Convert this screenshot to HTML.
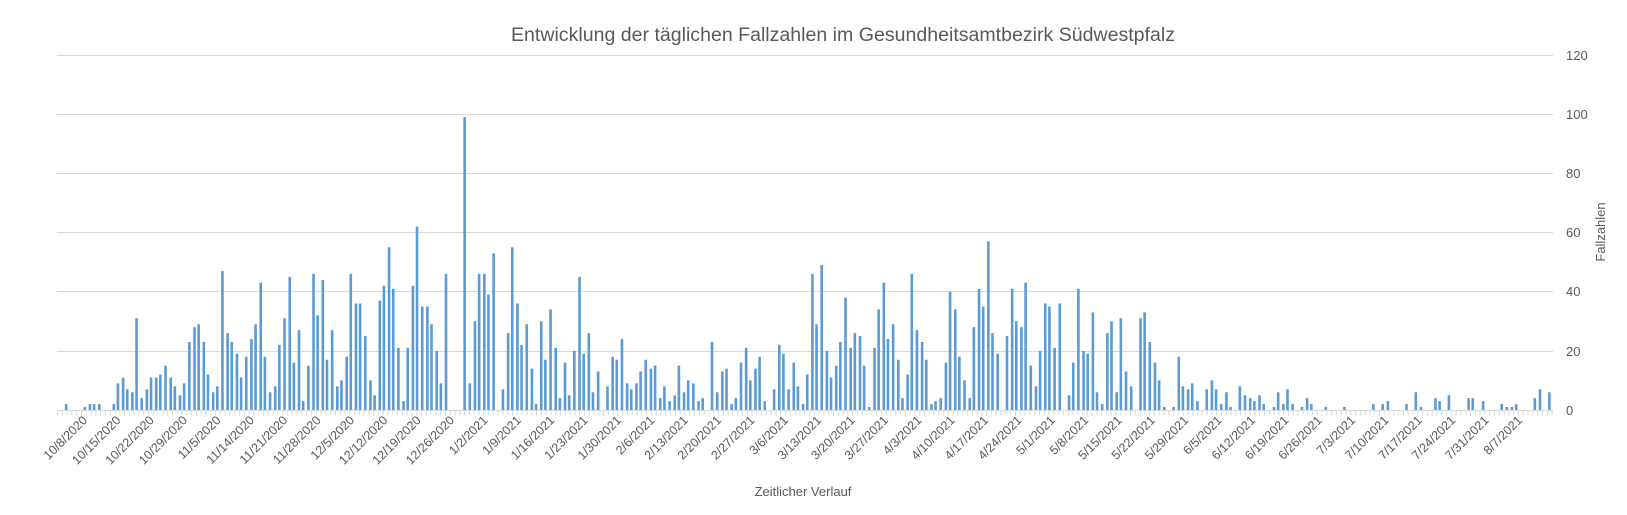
<!DOCTYPE html>
<html><head><meta charset="utf-8"><style>
body{margin:0;background:#fff;}
svg{display:block;font-family:"Liberation Sans",sans-serif;}
</style></head><body>
<svg width="1627" height="515" viewBox="0 0 1627 515">
<rect width="1627" height="515" fill="#fff"/>
<g stroke="#d9d9d9" stroke-width="1">
<line x1="57" x2="1553" y1="55.5" y2="55.5"/>
<line x1="57" x2="1553" y1="114.5" y2="114.5"/>
<line x1="57" x2="1553" y1="173.5" y2="173.5"/>
<line x1="57" x2="1553" y1="232.5" y2="232.5"/>
<line x1="57" x2="1553" y1="291.5" y2="291.5"/>
<line x1="57" x2="1553" y1="351.5" y2="351.5"/>
<line x1="57" x2="1553" y1="410.5" y2="410.5"/>
<line x1="57" x2="1553" y1="413" y2="413" stroke-width="5" stroke-dasharray="1 3.79"/>
</g>
<g transform="translate(2,410) scale(1.035,-2.958)">
<path fill="none" stroke="#5b9bd5" stroke-width="2.6" vector-effect="non-scaling-stroke" d="M62 0V2M80 0V1M85 0V2M89 0V2M94 0V2M108 0V2M112 0V9M117 0V11M121 0V7M126 0V6M130 0V31M135 0V4M140 0V7M144 0V11M149 0V11M153 0V12M158 0V15M163 0V11M167 0V8M172 0V5M176 0V9M181 0V23M186 0V28M190 0V29M195 0V23M199 0V12M204 0V6M208 0V8M213 0V47M218 0V26M222 0V23M227 0V19M231 0V11M236 0V18M241 0V24M245 0V29M250 0V43M254 0V18M259 0V6M264 0V8M268 0V22M273 0V31M278 0V45M282 0V16M287 0V27M291 0V3M296 0V15M301 0V46M305 0V32M310 0V44M314 0V17M319 0V27M324 0V8M328 0V10M333 0V18M337 0V46M342 0V36M346 0V36M351 0V25M356 0V10M360 0V5M365 0V37M369 0V42M374 0V55M378 0V41M383 0V21M388 0V3M392 0V21M397 0V42M401 0V62M406 0V35M411 0V35M415 0V29M420 0V20M424 0V9M429 0V46M447 0V99M452 0V9M457 0V30M461 0V46M466 0V46M470 0V39M475 0V53M484 0V7M489 0V26M493 0V55M498 0V36M502 0V22M507 0V29M512 0V14M516 0V2M521 0V30M525 0V17M530 0V34M535 0V21M539 0V4M544 0V16M548 0V5M553 0V20M558 0V45M562 0V19M567 0V26M571 0V6M576 0V13M585 0V8M590 0V18M594 0V17M599 0V24M604 0V9M608 0V7M613 0V9M617 0V13M622 0V17M627 0V14M631 0V15M636 0V4M640 0V8M645 0V3M650 0V5M654 0V15M659 0V6M663 0V10M668 0V9M673 0V3M677 0V4M686 0V23M691 0V6M696 0V13M700 0V14M705 0V2M709 0V4M714 0V16M719 0V21M723 0V10M728 0V14M732 0V18M737 0V3M746 0V7M751 0V22M755 0V19M760 0V7M765 0V16M769 0V8M774 0V2M778 0V12M783 0V46M787 0V29M792 0V49M797 0V20M801 0V11M806 0V15M810 0V23M815 0V38M820 0V21M824 0V26M829 0V25M833 0V15M838 0V1M843 0V21M847 0V34M852 0V43M856 0V24M861 0V29M866 0V17M870 0V4M875 0V12M879 0V46M884 0V27M889 0V23M893 0V17M898 0V2M902 0V3M907 0V4M912 0V16M916 0V40M921 0V34M925 0V18M930 0V10M935 0V4M939 0V28M944 0V41M948 0V35M953 0V57M957 0V26M962 0V19M971 0V25M976 0V41M980 0V30M985 0V28M989 0V43M994 0V15M999 0V8M1003 0V20M1008 0V36M1012 0V35M1017 0V21M1022 0V36M1031 0V5M1035 0V16M1040 0V41M1045 0V20M1049 0V19M1054 0V33M1058 0V6M1063 0V2M1068 0V26M1072 0V30M1077 0V6M1081 0V31M1086 0V13M1091 0V8M1100 0V31M1104 0V33M1109 0V23M1114 0V16M1118 0V10M1123 0V1M1132 0V1M1137 0V18M1141 0V8M1146 0V7M1150 0V9M1155 0V3M1164 0V7M1169 0V10M1173 0V7M1178 0V2M1183 0V6M1187 0V1M1196 0V8M1201 0V5M1206 0V4M1210 0V3M1215 0V5M1219 0V2M1229 0V1M1233 0V6M1238 0V2M1242 0V7M1247 0V2M1256 0V1M1261 0V4M1265 0V2M1279 0V1M1297 0V1M1325 0V2M1334 0V2M1339 0V3M1357 0V2M1366 0V6M1371 0V1M1385 0V4M1389 0V3M1398 0V5M1417 0V4M1421 0V4M1431 0V3M1449 0V2M1454 0V1M1459 0V1M1463 0V2M1481 0V4M1486 0V7M1495 0V6"/>
</g>
<g fill="#595959" font-size="13">
<text x="1566" y="60">120</text>
<text x="1566" y="119">100</text>
<text x="1566" y="178">80</text>
<text x="1566" y="237">60</text>
<text x="1566" y="296">40</text>
<text x="1566" y="356">20</text>
<text x="1566" y="415">0</text>
<text transform="translate(1605,232) rotate(-90)" text-anchor="middle">Fallzahlen</text>
<text x="803" y="496" text-anchor="middle">Zeitlicher Verlauf</text>
<text x="843" y="41" text-anchor="middle" font-size="19" textLength="664" lengthAdjust="spacingAndGlyphs">Entwicklung der täglichen Fallzahlen im Gesundheitsamtbezirk Südwestpfalz</text>
</g>
<g fill="#595959" font-size="12.5" text-anchor="end">
<text transform="translate(88,421) rotate(-45)">10/8/2020</text>
<text transform="translate(121.4,421) rotate(-45)">10/15/2020</text>
<text transform="translate(154.7,421) rotate(-45)">10/22/2020</text>
<text transform="translate(188.1,421) rotate(-45)">10/29/2020</text>
<text transform="translate(221.5,421) rotate(-45)">11/5/2020</text>
<text transform="translate(254.9,421) rotate(-45)">11/14/2020</text>
<text transform="translate(288.2,421) rotate(-45)">11/21/2020</text>
<text transform="translate(321.6,421) rotate(-45)">11/28/2020</text>
<text transform="translate(355,421) rotate(-45)">12/5/2020</text>
<text transform="translate(388.3,421) rotate(-45)">12/12/2020</text>
<text transform="translate(421.7,421) rotate(-45)">12/19/2020</text>
<text transform="translate(455.1,421) rotate(-45)">12/26/2020</text>
<text transform="translate(488.4,421) rotate(-45)">1/2/2021</text>
<text transform="translate(521.8,421) rotate(-45)">1/9/2021</text>
<text transform="translate(555.2,421) rotate(-45)">1/16/2021</text>
<text transform="translate(588.6,421) rotate(-45)">1/23/2021</text>
<text transform="translate(621.9,421) rotate(-45)">1/30/2021</text>
<text transform="translate(655.3,421) rotate(-45)">2/6/2021</text>
<text transform="translate(688.7,421) rotate(-45)">2/13/2021</text>
<text transform="translate(722,421) rotate(-45)">2/20/2021</text>
<text transform="translate(755.4,421) rotate(-45)">2/27/2021</text>
<text transform="translate(788.8,421) rotate(-45)">3/6/2021</text>
<text transform="translate(822.1,421) rotate(-45)">3/13/2021</text>
<text transform="translate(855.5,421) rotate(-45)">3/20/2021</text>
<text transform="translate(888.9,421) rotate(-45)">3/27/2021</text>
<text transform="translate(922.3,421) rotate(-45)">4/3/2021</text>
<text transform="translate(955.6,421) rotate(-45)">4/10/2021</text>
<text transform="translate(989,421) rotate(-45)">4/17/2021</text>
<text transform="translate(1022.4,421) rotate(-45)">4/24/2021</text>
<text transform="translate(1055.7,421) rotate(-45)">5/1/2021</text>
<text transform="translate(1089.1,421) rotate(-45)">5/8/2021</text>
<text transform="translate(1122.5,421) rotate(-45)">5/15/2021</text>
<text transform="translate(1155.8,421) rotate(-45)">5/22/2021</text>
<text transform="translate(1189.2,421) rotate(-45)">5/29/2021</text>
<text transform="translate(1222.6,421) rotate(-45)">6/5/2021</text>
<text transform="translate(1256,421) rotate(-45)">6/12/2021</text>
<text transform="translate(1289.3,421) rotate(-45)">6/19/2021</text>
<text transform="translate(1322.7,421) rotate(-45)">6/26/2021</text>
<text transform="translate(1356.1,421) rotate(-45)">7/3/2021</text>
<text transform="translate(1389.4,421) rotate(-45)">7/10/2021</text>
<text transform="translate(1422.8,421) rotate(-45)">7/17/2021</text>
<text transform="translate(1456.2,421) rotate(-45)">7/24/2021</text>
<text transform="translate(1489.5,421) rotate(-45)">7/31/2021</text>
<text transform="translate(1522.9,421) rotate(-45)">8/7/2021</text>
</g>
</svg>
</body></html>
